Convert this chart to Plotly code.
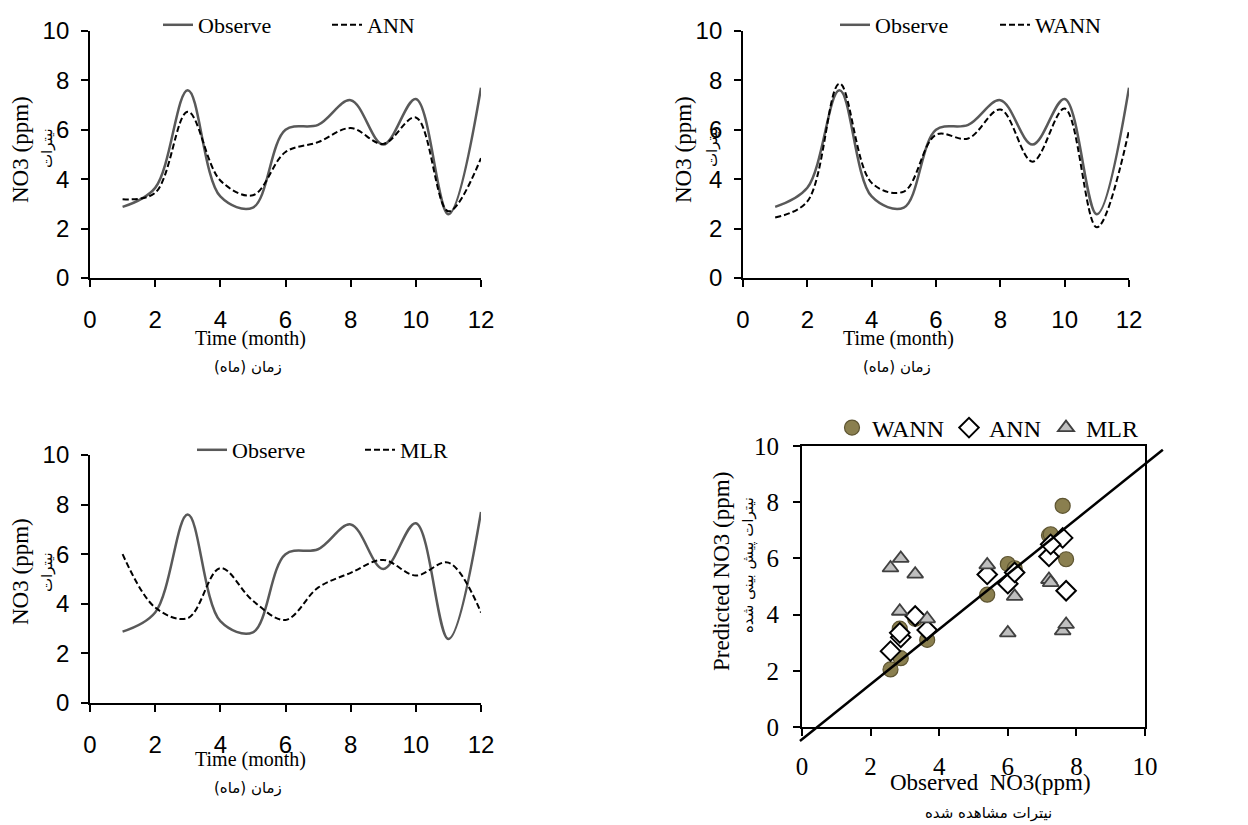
import plotly.graph_objects as go

W, H = 1248, 825

# ---------------- data ----------------
months = [1, 2, 3, 4, 5, 6, 7, 8, 9, 10, 11, 12]
observed = [2.88, 3.65, 7.6, 3.3, 2.85, 6.0, 6.2, 7.2, 5.4, 7.25, 2.58, 7.7]
wann = [2.45, 3.1, 7.87, 3.85, 3.5, 5.8, 5.65, 6.82, 4.71, 6.86, 2.05, 5.97]
ann = [3.19, 3.45, 6.73, 3.95, 3.35, 5.1, 5.5, 6.07, 5.43, 6.5, 2.7, 4.85]
mlr = [6.0, 3.85, 3.42, 5.44, 4.12, 3.35, 4.65, 5.25, 5.77, 5.14, 5.66, 3.65]

fit_slope = 0.98
fit_intercept = -0.44
fit_x = [-0.06, 10.52]
fit_y = [fit_slope * v + fit_intercept for v in fit_x]

time_ticks = [0, 2, 4, 6, 8, 10, 12]
no3_ticks = [0, 2, 4, 6, 8, 10]

# ---------------- styles ----------------
SERIF = "Liberation Serif, Times New Roman, serif"
SANS = "Liberation Sans, Arial, sans-serif"
FA = "DejaVu Sans, sans-serif"
OBS_COLOR = "#595959"
DASH = "6px,3px"


def px_x(p):
    return p / W


def px_y(p):
    return 1 - p / H


fig = go.Figure()

# Panel 1: Observe vs ANN
fig.add_trace(go.Scatter(x=months, y=observed, mode="lines", name="Observe",
                         line=dict(color=OBS_COLOR, width=2.5, shape="spline", smoothing=1),
                         xaxis="x", yaxis="y", legend="legend"))
fig.add_trace(go.Scatter(x=months, y=ann, mode="lines", name="ANN",
                         line=dict(color="black", width=2, dash=DASH, shape="spline", smoothing=1),
                         xaxis="x", yaxis="y", legend="legend"))
# Panel 2: Observe vs WANN
fig.add_trace(go.Scatter(x=months, y=observed, mode="lines", name="Observe",
                         line=dict(color=OBS_COLOR, width=2.5, shape="spline", smoothing=1),
                         xaxis="x2", yaxis="y2", legend="legend2"))
fig.add_trace(go.Scatter(x=months, y=wann, mode="lines", name="WANN",
                         line=dict(color="black", width=2, dash=DASH, shape="spline", smoothing=1),
                         xaxis="x2", yaxis="y2", legend="legend2"))
# Panel 3: Observe vs MLR
fig.add_trace(go.Scatter(x=months, y=observed, mode="lines", name="Observe",
                         line=dict(color=OBS_COLOR, width=2.5, shape="spline", smoothing=1),
                         xaxis="x3", yaxis="y3", legend="legend3"))
fig.add_trace(go.Scatter(x=months, y=mlr, mode="lines", name="MLR",
                         line=dict(color="black", width=2, dash=DASH, shape="spline", smoothing=1),
                         xaxis="x3", yaxis="y3", legend="legend3"))
# Panel 4: scatter
fig.add_trace(go.Scatter(x=observed, y=wann, mode="markers", name="WANN",
                         marker=dict(symbol="circle", size=15, color="#8a7f4f",
                                     line=dict(color="#5e5532", width=1.2)),
                         xaxis="x4", yaxis="y4", legend="legend4"))
fig.add_trace(go.Scatter(x=observed, y=ann, mode="markers", name="ANN",
                         marker=dict(symbol="diamond", size=15, color="white",
                                     line=dict(color="black", width=2)),
                         xaxis="x4", yaxis="y4", legend="legend4"))
fig.add_trace(go.Scatter(x=observed, y=mlr, mode="markers", name="MLR",
                         marker=dict(symbol="triangle-up", size=14, color="#bfbfbf",
                                     line=dict(color="#404040", width=1.8)),
                         xaxis="x4", yaxis="y4", legend="legend4"))
# fit line on an invisible, extended axis pair with the same scale
fig.add_trace(go.Scatter(x=fit_x, y=fit_y, mode="lines", showlegend=False,
                         line=dict(color="black", width=2.5),
                         xaxis="x5", yaxis="y5"))

# ---------------- axes ----------------
time_x = dict(range=[0, 12], tickvals=time_ticks, showline=True, linecolor="black", linewidth=1.8,
              ticks="outside", ticklen=7, tickwidth=1.5, tickcolor="black", showgrid=False,
              zeroline=False, tickfont=dict(family=SANS, size=24, color="black"),
              ticklabelstandoff=12)
time_y = dict(range=[0, 10], tickvals=no3_ticks, showline=True, linecolor="black", linewidth=1.8,
              ticks="outside", ticklen=7, tickwidth=1.5, tickcolor="black", showgrid=False,
              zeroline=False, tickfont=dict(family=SANS, size=24, color="black"),
              ticklabelstandoff=7)

d1x = [px_x(90), px_x(481)]
d2x = [px_x(743), px_x(1129)]
dtop = [px_y(278), px_y(31)]
dbot = [px_y(703), px_y(455)]
d4x = [px_x(802), px_x(1145)]
d4y = [px_y(727), px_y(446)]

ext_x = [-0.3, 10.8]
ext_y = [-0.8, 10.3]
sx = (d4x[1] - d4x[0]) / 10
sy = (d4y[1] - d4y[0]) / 10
d5x = [d4x[0] + ext_x[0] * sx, d4x[0] + ext_x[1] * sx]
d5y = [d4y[0] + ext_y[0] * sy, d4y[0] + ext_y[1] * sy]

sc_axis = dict(range=[0, 10], tickvals=no3_ticks, showline=True, mirror=True, linecolor="black",
               linewidth=1.8, ticks="outside", ticklen=7, tickwidth=1.5, tickcolor="black",
               showgrid=False, zeroline=False, tickfont=dict(family=SERIF, size=25, color="black"))

fig.update_layout(
    width=W, height=H, margin=dict(l=0, r=0, t=0, b=0, autoexpand=False),
    paper_bgcolor="white", plot_bgcolor="rgba(0,0,0,0)",
    xaxis=dict(time_x, domain=d1x, anchor="y"),
    yaxis=dict(time_y, domain=dtop, anchor="x"),
    xaxis2=dict(time_x, domain=d2x, anchor="y2"),
    yaxis2=dict(time_y, domain=dtop, anchor="x2"),
    xaxis3=dict(time_x, domain=d1x, anchor="y3"),
    yaxis3=dict(time_y, domain=dbot, anchor="x3"),
    xaxis4=dict(sc_axis, domain=d4x, anchor="y4", ticklabelstandoff=9),
    yaxis4=dict(sc_axis, domain=d4y, anchor="x4", ticklabelstandoff=9),
    xaxis5=dict(range=ext_x, domain=d5x, anchor="y5", visible=False),
    yaxis5=dict(range=ext_y, domain=d5y, anchor="x5", visible=False),
    showlegend=True,
)

leg_common = dict(orientation="h", xanchor="left", yanchor="middle",
                  bgcolor="rgba(0,0,0,0)", font=dict(family=SERIF, size=22, color="black"),
                  itemwidth=30, entrywidthmode="pixels")
fig.update_layout(
    legend=dict(leg_common, x=px_x(158), y=px_y(25), entrywidth=124),
    legend2=dict(leg_common, x=px_x(835), y=px_y(25), entrywidth=115),
    legend3=dict(leg_common, x=px_x(192), y=px_y(450), entrywidth=123),
    legend4=dict(orientation="h", xanchor="center", yanchor="middle", itemwidth=30,
                 bgcolor="rgba(0,0,0,0)", x=px_x(988), y=px_y(428),
                 font=dict(family=SERIF, size=24, color="black")),
)

# ---------------- titles as annotations ----------------
ann_list = []


def add_text(text, x, y, family, size, angle=0):
    ann_list.append(dict(text=text, x=px_x(x), y=px_y(y), xref="paper", yref="paper",
                         showarrow=False, xanchor="center", yanchor="middle", textangle=angle,
                         font=dict(family=family, size=size, color="black")))


# Panel 1
add_text("NO3 (ppm)", 20, 150, SERIF, 23, -90)
add_text("نیترات", 47, 148, FA, 15, -90)
add_text("Time (month)", 250, 338, SERIF, 20)
add_text("زمان (ماه)", 248, 367, FA, 15)
# Panel 2
add_text("NO3 (ppm)", 683, 150, SERIF, 23, -90)
add_text("نیترات", 712, 147, FA, 15, -90)
add_text("Time (month)", 898, 338, SERIF, 20)
add_text("زمان (ماه)", 897, 367, FA, 15)
# Panel 3
add_text("NO3 (ppm)", 20, 572, SERIF, 23, -90)
add_text("نیترات", 47, 572, FA, 15, -90)
add_text("Time (month)", 250, 759, SERIF, 20)
add_text("زمان (ماه)", 248, 788, FA, 15)
# Panel 4
add_text("Predicted NO3 (ppm)", 721, 571, SERIF, 23, -90)
add_text("نیترات پیش بینی شده", 748, 565, FA, 15, -90)
add_text("Observed  NO3(ppm)", 990, 782, SERIF, 23)
add_text("نیترات مشاهده شده", 988, 813, FA, 15)

fig.update_layout(annotations=ann_list)

fig.write_html("out.html", config={"displayModeBar": False},
               post_script="document.body.style.margin='0';document.body.style.overflow='hidden';")
